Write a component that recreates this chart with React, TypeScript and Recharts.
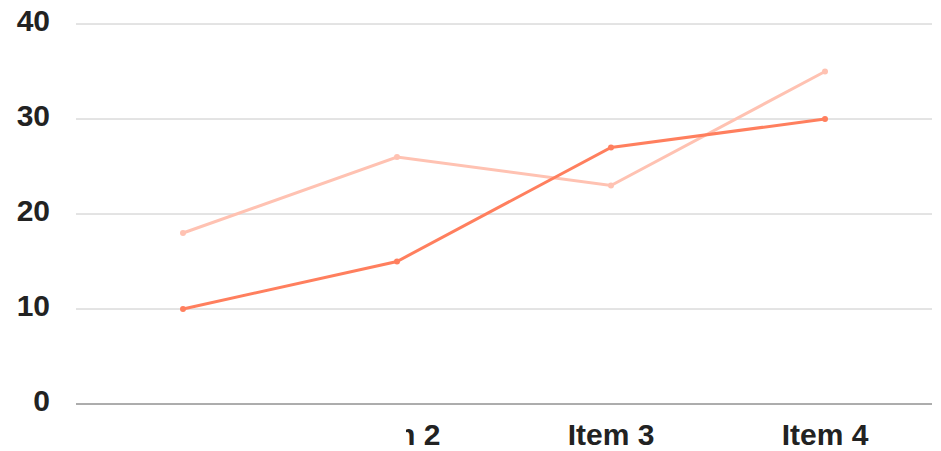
import React from "react"
import { LineChart, Line, XAxis, YAxis, CartesianGrid } from "recharts"

const categories = ["Item 1", "Item 2", "Item 3", "Item 4"]
const seriesA = [10, 15, 27, 30]
const seriesB = [18, 26, 23, 35]
const yTicks = [0, 10, 20, 30, 40]

const data = categories.map((name, i) => ({ name, a: seriesA[i], b: seriesB[i] }))

const FONT = "'Liberation Sans', Arial, sans-serif"

function YTick(props: any) {
  const { x, y, payload } = props
  return (
    <text
      x={x}
      y={y}
      dy={7}
      textAnchor="end"
      fontFamily={FONT}
      fontWeight="bold"
      fontSize={30}
      fill="#222"
    >
      {payload.value}
    </text>
  )
}

function XTick(props: any) {
  const { x, y, payload, index } = props
  if (index === 0) return null
  const clip = index === 1 ? "url(#clip-item2)" : undefined
  return (
    <g>
      {index === 1 && (
        <defs>
          <clipPath id="clip-item2">
            <rect x={406} y={y - 10} width={200} height={60} />
          </clipPath>
        </defs>
      )}
      <text
        x={x}
        y={y}
        dy={21}
        textAnchor="middle"
        fontFamily={FONT}
        fontWeight="bold"
        fontSize={30}
        fill="#222"
        clipPath={clip}
      >
        {payload.value}
      </text>
    </g>
  )
}

export default function App() {
  return (
    <div style={{ position: "absolute", left: 0, top: 0 }}>
      <LineChart
        width={941}
        height={451}
        data={data}
        margin={{ top: 24, right: 9, bottom: 0, left: 0 }}
      >
        <CartesianGrid vertical={false} stroke="#c8c8c8" />
        <XAxis
          dataKey="name"
          height={47}
          padding={{ left: 107, right: 107 }}
          tickLine={false}
          tickSize={0}
          tickMargin={20}
          stroke="#777"
          tick={<XTick />}
          interval={0}
        />
        <YAxis
          domain={[0, 40]}
          ticks={yTicks}
          width={76}
          axisLine={false}
          tickLine={false}
          tickSize={0}
          tickMargin={26}
          tick={<YTick />}
        />
        <Line
          type="linear"
          dataKey="b"
          stroke="#ffc2b2"
          strokeWidth={3}
          dot={{ r: 3, fill: "#ffc2b2", stroke: "none" }}
          isAnimationActive={false}
        />
        <Line
          type="linear"
          dataKey="a"
          stroke="#ff7f5e"
          strokeWidth={3}
          dot={{ r: 3, fill: "#ff7f5e", stroke: "none" }}
          isAnimationActive={false}
        />
      </LineChart>
    </div>
  )
}
